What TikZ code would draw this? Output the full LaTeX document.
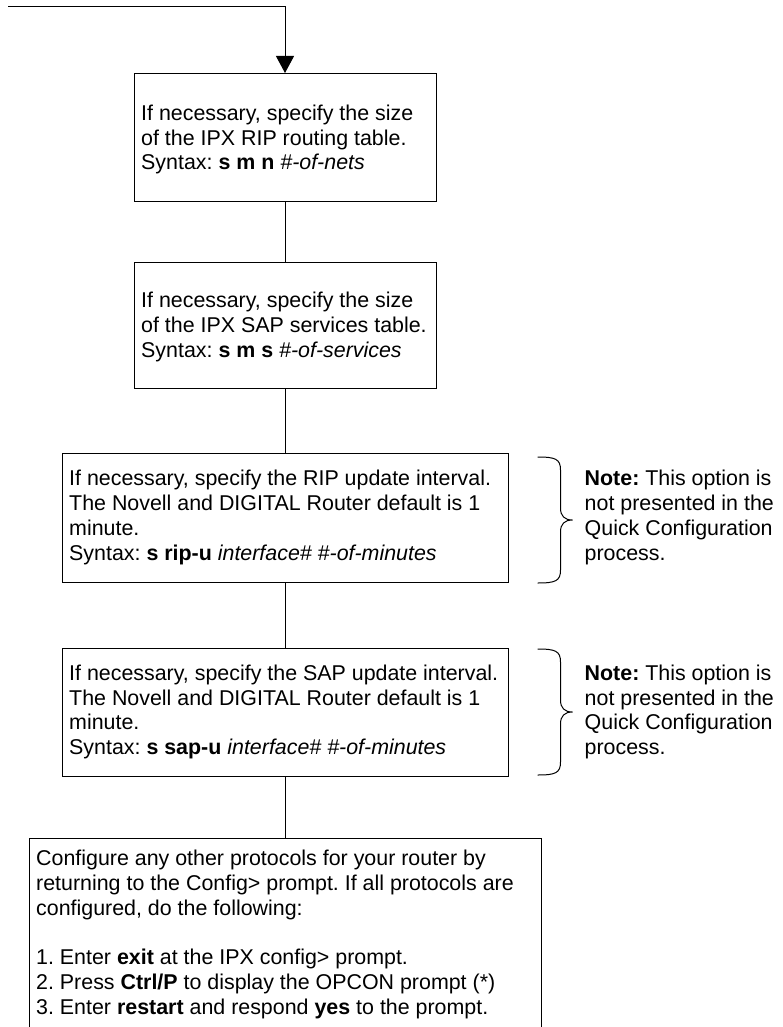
\documentclass[tikz,border=0pt]{standalone}
\usepackage{fontspec}
\setmainfont{Liberation Sans}
\usetikzlibrary{arrows.meta}
\frenchspacing
\begin{document}
\begin{tikzpicture}[x=1pt,y=-1pt,
  stepbox/.style={draw=black, line width=1pt, inner sep=0pt},
  boxtext/.style={inner sep=0pt, align=left, anchor=west,
    font=\fontsize{21.4}{24.8}\selectfont},
  flow/.style={draw=black, line width=1pt},
  notebrace/.pic={
    \draw[line width=1pt] (-35,-63) .. controls (-17,-63) and (-12,-61) .. (-12,-50)
      -- (-12,-12) .. controls (-12,-4) and (-8,0) .. (0,0)
      .. controls (-8,0) and (-12,4) .. (-12,12)
      -- (-12,50) .. controls (-12,61) and (-17,63) .. (-35,63);
  }]
  % page area
  \clip (0,0) rectangle (782,1027);

  % process boxes, all centred on the main flow line
  \node[stepbox, minimum width=302pt, minimum height=128pt] (b1) at (285,137.5) {};
  \node[stepbox, minimum width=302pt, minimum height=126pt] (b2) at (285,325) {};
  \node[stepbox, minimum width=446pt, minimum height=129pt] (b3) at (285,517.5) {};
  \node[stepbox, minimum width=446pt, minimum height=128pt] (b4) at (285,712) {};
  \node[stepbox, minimum width=512pt, minimum height=230pt, anchor=north] (b5) at (285,838) {};

  % box texts
  \node[boxtext, xshift=7.5pt, yshift=-2pt] (t1) at (b1.west)
    {If necessary, specify the size\\of the IPX RIP routing table.\\Syntax: \textbf{s m n} \textit{\#-of-nets}};
  \node[boxtext, xshift=7.5pt, yshift=-2pt] (t2) at (b2.west)
    {If necessary, specify the size\\of the IPX SAP services table.\\Syntax: \textbf{s m s} \textit{\#-of-services}};
  \node[boxtext, xshift=7.5pt] (t3) at (b3.west)
    {If necessary, specify the RIP update interval.\\The Novell and DIGITAL Router default is 1\\minute.\\Syntax: \textbf{s rip-u} \textit{interface\# \#-of-minutes}};
  \node[boxtext, xshift=7.5pt] (t4) at (b4.west)
    {If necessary, specify the SAP update interval.\\The Novell and DIGITAL Router default is 1\\minute.\\Syntax: \textbf{s sap-u} \textit{interface\# \#-of-minutes}};
  \node[boxtext, anchor=north west, xshift=7.5pt, yshift=-12pt] (t5) at (b5.north west)
    {Configure any other protocols for your router by\\returning to the Config> prompt. If all protocols are\\configured, do the following:\\[24.8pt]1. Enter \textbf{exit} at the IPX config> prompt.\\2. Press \textbf{Ctrl/P} to display the OPCON prompt (*)\\3. Enter \textbf{restart} and respond \textbf{yes} to the prompt.};

  % entry line with arrow
  \coordinate (entry) at (8,7);
  \draw[flow, -{Triangle[width=18pt,length=17pt]}] (entry) -| (b1.north);

  % connectors
  \draw[flow] (b1) -- (b2);
  \draw[flow] (b2) -- (b3);
  \draw[flow] (b3) -- (b4);
  \draw[flow] (b4) -- (b5);

  % side notes with braces
  \pic at ([xshift=64pt,yshift=-2.5pt]b3.east) {notebrace};
  \node[boxtext, xshift=76pt] (n3) at (b3.east)
    {\textbf{Note:} This option is\\not presented in the\\Quick Configuration\\process.};
  \pic at ([xshift=64pt]b4.east) {notebrace};
  \node[boxtext, xshift=76pt] (n4) at (b4.east)
    {\textbf{Note:} This option is\\not presented in the\\Quick Configuration\\process.};
\end{tikzpicture}
\end{document}
